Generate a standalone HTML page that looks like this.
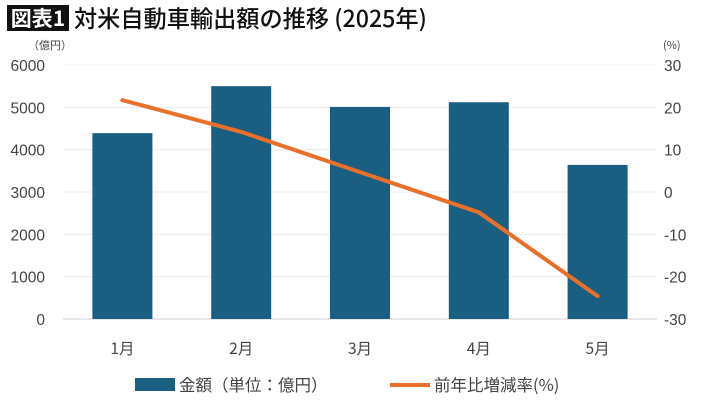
<!DOCTYPE html>
<html><head><meta charset="utf-8">
<style>
body{margin:0;background:#fff;width:710px;height:412px;overflow:hidden;font-family:"Liberation Sans","Noto Sans CJK JP",sans-serif;}
</style></head>
<body>
<svg width="710" height="412" xmlns="http://www.w3.org/2000/svg">
<rect x="7" y="5" width="62" height="26" fill="#111"/>
<text x="38" y="26" fill="#fff" font-size="21" font-weight="bold" text-anchor="middle" font-family="Noto Sans CJK JP, sans-serif">図表1</text>
<text x="74" y="27" fill="#111" font-size="23.2" font-weight="500" font-family="Noto Sans CJK JP, sans-serif">対米自動車輸出額の推移 (2025年)</text>
<text x="28" y="49" fill="#444" font-size="11" font-family="Noto Sans CJK JP, sans-serif">（億円）</text>
<text x="663" y="49" fill="#444" font-size="11" font-family="Noto Sans CJK JP, sans-serif">(%)</text>
<g id="grid"></g><g id="bars"></g><g id="line"></g><g id="axes"></g>
<rect x="135" y="378" width="40" height="13" fill="#1a5f82"/>
<text x="179" y="391" fill="#444" font-size="16.5" font-family="Noto Sans CJK JP, sans-serif">金額（単位：億円）</text>
<line x1="390" y1="385" x2="430" y2="385" stroke="#e8702a" stroke-width="4"/>
<text x="434" y="391" fill="#444" font-size="16.5" font-family="Noto Sans CJK JP, sans-serif">前年比増減率(%)</text>
</svg>
<script>
const categories=["1月","2月","3月","4月","5月"];
const amounts=[4390,5500,5010,5120,3640];
const rates=[21.7,14.2,4.7,-4.8,-24.6];
const leftTicks=[0,1000,2000,3000,4000,5000,6000];
const rightTicks=[-30,-20,-10,0,10,20,30];
const NS="http://www.w3.org/2000/svg";
const x0=63,x1=657,yTop=65,yBot=319;
const band=(x1-x0)/categories.length;
const xc=i=>x0+band*(i+0.5);
const yL=v=>yBot-(v/6000)*(yBot-yTop);
const yR=v=>yBot-((v+30)/60)*(yBot-yTop);
function mk(tag,attrs,parent,txt){const e=document.createElementNS(NS,tag);for(const k in attrs)e.setAttribute(k,attrs[k]);if(txt!==undefined)e.textContent=txt;document.getElementById(parent).appendChild(e);return e;}
leftTicks.forEach(t=>{
 const g=mk('line',{x1:x0,x2:x1,y1:yL(t),y2:yL(t),stroke:t===0?'#d0d0d0':'#ececec','stroke-width':1},'grid');
 
 
 const l=mk('text',{x:45,y:yL(t)+6,'text-anchor':'end','font-size':15.5,fill:'#444'},'axes',String(t));
 
 
});
rightTicks.forEach(t=>{
 const l=mk('text',{x:664,y:yR(t)+6,'font-size':15.5,fill:'#444'},'axes',String(t));
 
 
});
const bw=60;
amounts.forEach((v,i)=>{
 const r=mk('rect',{x:xc(i)-bw/2,y:yL(v),width:bw,height:yBot-yL(v),fill:'#1a5f82'},'bars');
 
 
 const c=mk('text',{x:xc(i),y:354,'text-anchor':'middle','font-size':15.5,fill:'#444','font-family':'Noto Sans CJK JP, sans-serif'},'axes',categories[i]);
 
 
});
const p=mk('polyline',{points:rates.map((v,i)=>xc(i)+','+yR(v)).join(' '),fill:'none',stroke:'#e8702a','stroke-width':4,'stroke-linejoin':'round','stroke-linecap':'round'},'line');


</script>
</body></html>
